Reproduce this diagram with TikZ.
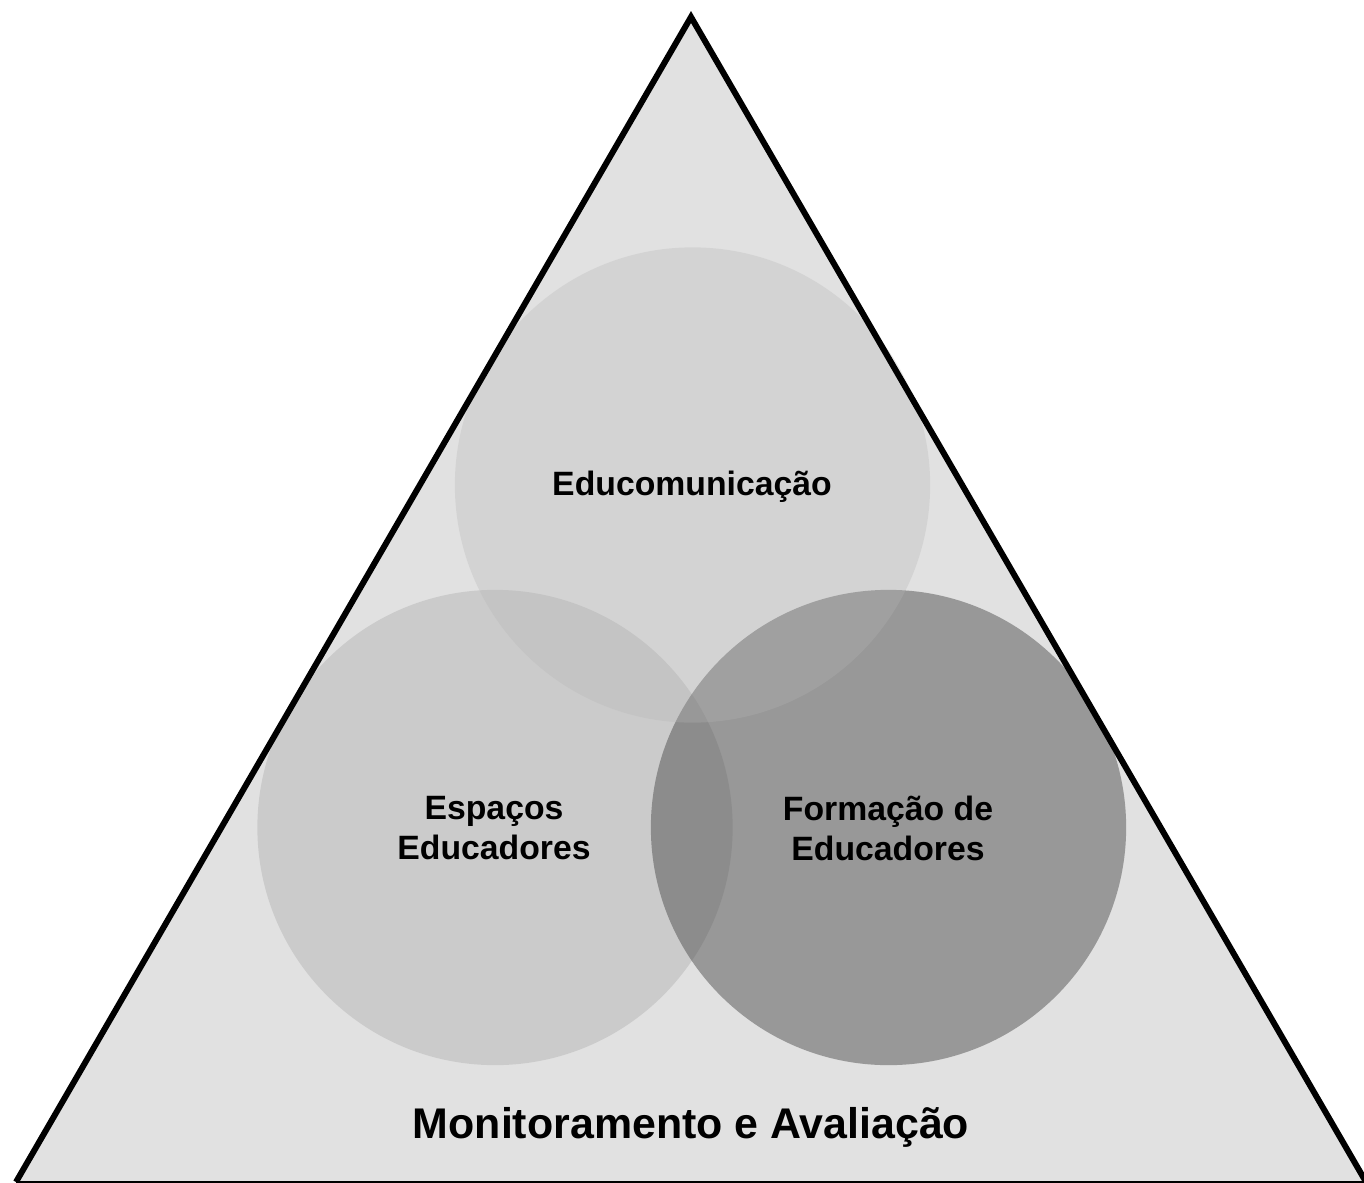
\documentclass[tikz,border=0pt]{standalone}
\usepackage{fontspec}
\setmainfont{Liberation Sans}
\begin{document}
\begin{tikzpicture}[x=0.01cm,y=-0.01cm,
  lbl/.style={font=\bfseries\fontsize{9.6pt}{11.4pt}\selectfont,align=center,text=black,inner sep=0pt},
  bub/.style={circle,inner sep=0pt,draw=none,minimum size=4.75cm}]
\definecolor{bgtri}{RGB}{225,225,225}
\definecolor{cright}{RGB}{152,152,152}
\definecolor{cleft}{RGB}{66,66,66}
\definecolor{ctop}{RGB}{180,180,180}
\definecolor{baseline}{RGB}{190,190,190}
\useasboundingbox (0,0) rectangle (1364,1182);
\coordinate (apex) at (691,17);
\coordinate (bl) at (16,1182);
\coordinate (br) at (1366,1182);
\fill[bgtri] (apex) -- (bl) -- (br) -- cycle;
\draw[baseline,line width=0.6pt] (bl) -- (br);
\node[bub,fill=cright] (right) at (888.5,827.5) {};
\node[bub,fill=cleft,fill opacity=0.135] (left) at (495,827.5) {};
\node[bub,fill=ctop,fill opacity=0.3] (top) at (692.5,485) {};
\draw[black,line width=1.7pt,line join=miter] (bl) -- (apex) -- (br);
\node[lbl] (t1) at (692,487) {Educomunicação};
\node[lbl] (t2) at (494,828) {Espaços\\Educadores};
\node[lbl] (t3) at (888,828) {Formação de\\Educadores};
\node[lbl,font=\bfseries\fontsize{12.2pt}{14pt}\selectfont] (t4) at (691,1127) {Monitoramento e Avaliação};
\end{tikzpicture}
\end{document}
